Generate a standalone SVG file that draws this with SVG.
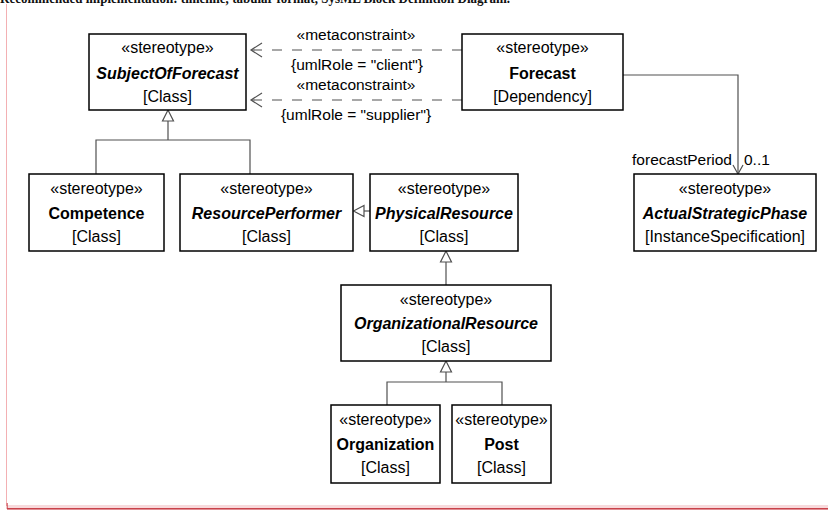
<svg xmlns="http://www.w3.org/2000/svg" width="828" height="510" viewBox="0 0 828 510">
<defs>
<style>
.box{fill:#fff;stroke:#000;stroke-width:1.5}
.t{font-family:"Liberation Sans",Arial,sans-serif;font-size:16px;fill:#000;text-anchor:middle}
.b{font-weight:bold}
.bi{font-weight:bold;font-style:italic}
.lbl{font-family:"Liberation Sans",Arial,sans-serif;font-size:15.5px;fill:#000}
.c{fill:none;stroke:#505050;stroke-width:1.2}
.d{fill:none;stroke:#505050;stroke-width:1.2;stroke-dasharray:10,10}
.tri{fill:#fff;stroke:#505050;stroke-width:1.2}
</style>
</defs>
<rect width="828" height="510" fill="#fff"/>
<text x="0" y="2.5" font-family="Liberation Serif,serif" font-size="15" font-weight="bold" fill="#111" textLength="510" lengthAdjust="spacingAndGlyphs">Recommended implementation: timeline, tabular format, SysML Block Definition Diagram.</text>
<line x1="6.5" y1="4" x2="6.5" y2="506" stroke="#f3b0b3" stroke-width="1"/>
<rect x="7" y="505" width="821" height="5" fill="#f8dadc"/>
<line x1="7" y1="508.8" x2="828" y2="508.8" stroke="#c8424a" stroke-width="1.5"/>
<line x1="7.2" y1="503" x2="7.2" y2="509" stroke="#c8424a" stroke-width="1"/>

<g id="connectors">
<path class="d" d="M462,50 H251"/>
<path class="c" d="M262,43 L251,50 L262,57"/>
<path class="d" d="M462,100 H251"/>
<path class="c" d="M262,93 L251,100 L262,107"/>
<path class="c" d="M623,75 H738 V174"/>
<path class="c" d="M733,165 L738,174 L743,165"/>
<path class="c" d="M168,121 V140 M96,174 V140 H250 V174"/>
<path class="tri" d="M168,110 L162.5,121 L173.5,121 Z"/>
<path class="c" d="M364,211 H370"/>
<path class="tri" d="M353.5,211 L364,205.5 L364,216.5 Z"/>
<path class="c" d="M446,262 V285"/>
<path class="tri" d="M446,251 L440.5,262 L451.5,262 Z"/>
<path class="c" d="M446,372 V382 M387,405 V382 H502 V405"/>
<path class="tri" d="M446,361 L440.5,372 L451.5,372 Z"/>
<text class="lbl" x="356" y="40" text-anchor="middle">«metaconstraint»</text>
<text class="lbl" x="357" y="70" text-anchor="middle">{umlRole = "client"}</text>
<text class="lbl" x="356" y="90" text-anchor="middle">«metaconstraint»</text>
<text class="lbl" x="356" y="120" text-anchor="middle">{umlRole = "supplier"}</text>
<text class="lbl" x="732" y="164.5" text-anchor="end">forecastPeriod</text>
<text class="lbl" x="744" y="164.5">0..1</text>
</g>

<g id="SubjectOfForecast">
<rect class="box" x="89" y="34" width="157" height="76"/>
<text class="t" x="167.5" y="52.5">«stereotype»</text>
<text class="t bi" x="167.5" y="79">SubjectOfForecast</text>
<text class="t" x="167.5" y="102">[Class]</text>
</g>

<g id="Forecast">
<rect class="box" x="462" y="34" width="161" height="76"/>
<text class="t" x="542.5" y="52.5">«stereotype»</text>
<text class="t b" x="542.5" y="79">Forecast</text>
<text class="t" x="542.5" y="102">[Dependency]</text>
</g>

<g id="Competence">
<rect class="box" x="29" y="174" width="135" height="77"/>
<text class="t" x="96.5" y="193.5">«stereotype»</text>
<text class="t b" x="96.5" y="219">Competence</text>
<text class="t" x="96.5" y="241.5">[Class]</text>
</g>

<g id="ResourcePerformer">
<rect class="box" x="180" y="174" width="173" height="77"/>
<text class="t" x="266.5" y="193.5">«stereotype»</text>
<text class="t bi" x="266.5" y="219">ResourcePerformer</text>
<text class="t" x="266.5" y="241.5">[Class]</text>
</g>

<g id="PhysicalResource">
<rect class="box" x="370" y="174" width="148" height="77"/>
<text class="t" x="444" y="193.5">«stereotype»</text>
<text class="t bi" x="444" y="219">PhysicalResource</text>
<text class="t" x="444" y="241.5">[Class]</text>
</g>

<g id="ActualStrategicPhase">
<rect class="box" x="634" y="174" width="182" height="77"/>
<text class="t" x="725" y="193.5">«stereotype»</text>
<text class="t bi" x="725" y="219">ActualStrategicPhase</text>
<text class="t" x="725" y="241.5">[InstanceSpecification]</text>
</g>

<g id="OrganizationalResource">
<rect class="box" x="341" y="285" width="210" height="76"/>
<text class="t" x="446" y="304.5">«stereotype»</text>
<text class="t bi" x="446" y="329">OrganizationalResource</text>
<text class="t" x="446" y="351.5">[Class]</text>
</g>

<g id="Organization">
<rect class="box" x="331" y="405" width="109" height="78"/>
<text class="t" x="385.5" y="425">«stereotype»</text>
<text class="t b" x="385.5" y="449.5">Organization</text>
<text class="t" x="385.5" y="472.5">[Class]</text>
</g>

<g id="Post">
<rect class="box" x="452" y="405" width="99" height="78"/>
<text class="t" x="501.5" y="425">«stereotype»</text>
<text class="t b" x="501.5" y="449.5">Post</text>
<text class="t" x="501.5" y="472.5">[Class]</text>
</g>
</svg>
